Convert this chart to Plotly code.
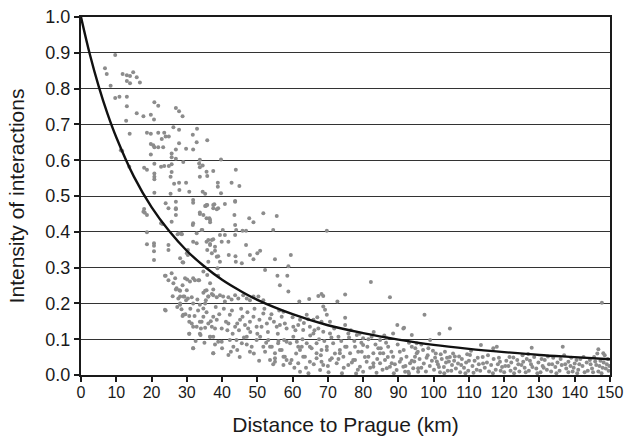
import plotly.graph_objects as go

# Fitted decay curve (km, intensity)
curve_km = [0, 2.5, 5, 7.5, 10, 15, 20, 25, 30, 35, 40, 45, 50, 60, 70, 80, 90, 100, 110, 120, 130, 140, 150]
curve_val = [1.0, 0.896, 0.807, 0.730, 0.664, 0.554, 0.469, 0.402, 0.347, 0.303, 0.266, 0.236, 0.210,
             0.170, 0.139, 0.117, 0.099, 0.084, 0.073, 0.064, 0.056, 0.050, 0.044]

# Scatter of municipalities (km, intensity)
dist_km = [
 9.7,6.8,7.3,8.4,11.8,13.0,13.9,14.8,15.8,13.0,13.9,16.7,9.7,10.9,13.0,13.0,12.8,15.8,17.7,19.8,20.7,20.8,21.9,26.9,27.8,28.8,
 13.8,18.7,19.8,21.9,23.6,22.9,24.0,24.9,26.2,27.8,31.7,32.9,32.8,35.8,11.3,11.7,19.8,20.5,21.9,23.3,20.8,27.8,26.9,29.8,31.8,
 19.8,25.7,25.7,26.9,29.0,33.7,39.7,13.7,17.9,18.7,20.8,22.7,23.6,24.9,25.7,33.5,34.5,33.7,35.6,37.5,43.9,20.8,20.8,20.8,25.4,
 25.7,33.7,35.8,26.4,27.8,29.8,38.8,38.8,42.7,44.9,20.8,25.4,27.9,30.7,34.5,35.2,39.7,31.8,31.8,26.9,24.0,35.6,37.8,43.7,24.8,
 26.9,38.9,37.5,17.9,
 17.7,18.1,18.7,18.7,18.7,20.7,20.7,20.7,20.7,24.0,24.0,26.9,26.9,25.7,22.7,24.8,24.8,27.9,28.5,28.1,28.8,30.0,25.7,24.8,26.2,
 26.9,27.9,28.8,29.5,30.0,28.1,29.3,30.3,31.8,28.1,28.5,28.8,30.7,31.8,30.7,31.8,33.7,34.2,35.2,34.7,35.2,36.1,35.6,36.6,37.5,
 36.6,37.5,38.0,31.8,33.5,34.7,35.8,32.8,34.4,31.8,33.7,35.6,36.6,35.4,35.6,36.6,37.5,38.0,37.1,36.1,38.5,38.9,38.7,35.4,37.5,
 23.1,35.2,35.8,37.5,38.5,33.7,34.7,36.4,36.6,31.7,34.2,40.8,43.5,43.7,47.7,48.9,51.7,55.5,43.7,40.2,44.0,45.8,46.8,54.5,27.4,
 28.6,29.0,30.3,30.3,31.8,32.8,36.1,37.1,36.6,35.8,38.0,38.9,39.4,39.4,40.8,41.8,39.9,43.7,43.8,41.9,43.9,45.6,46.8,47.9,48.9,
 50.0,50.8,52.2,55.0,55.7,56.4,23.8,26.7,27.1,28.1,30.1,30.9,32.3,33.3,29.0,27.6,28.1,29.8,31.4,33.0,33.7,34.7,35.2,36.1,37.1,
 37.5,38.5,39.4,40.3,40.8,41.8,42.7,43.7,44.6,46.0,47.0,47.9,48.9,50.3,51.7,23.8,29.0,30.7,31.4,32.8,33.7,34.7,36.1,37.1,37.5,
 38.5,39.9,41.1,41.8,42.2,43.7,44.3,45.1,45.8,46.5,47.4,47.9,48.9,49.8,50.6,51.7,52.7,53.6,54.7,55.5,56.9,57.8,30.7,33.9,36.6,
 38.9,39.9,42.2,43.2,44.1,45.6,47.0,48.4,49.8,50.8,51.7,53.1,54.1,55.0,55.9,56.9,57.8,31.8,37.5,41.8,44.3,47.9,52.2,53.6,55.0,
 57.4,58.3,
 69.7,59.5,58.8,58.5,58.8,82.2,61.9,64.7,67.3,68.2,68.7,72.7,74.9,87.6,68.7,69.2,69.7,57.4,60.0,62.1,64.0,64.4,65.9,67.0,68.2,
 70.6,74.9,74.9,89.7,91.4,93.8,56.4,58.3,60.2,61.6,63.0,64.9,65.9,67.3,68.7,70.6,73.0,75.8,78.2,80.0,82.4,84.8,86.7,88.5,57.6,
 59.3,61.2,62.6,64.0,65.4,66.8,68.2,69.7,71.5,73.4,74.9,76.3,77.7,79.6,81.2,82.9,84.3,85.7,87.1,88.5,90.4,92.3,93.8,95.2,59.7,
 61.6,63.5,64.9,66.8,68.7,70.6,72.5,74.4,75.8,77.7,79.1,81.0,82.9,84.8,86.7,88.1,89.5,91.4,92.8,94.2,95.6,62.1,67.8,80.0,
 62.1,63.0,64.9,66.8,68.2,69.7,71.1,73.4,75.3,77.2,78.6,80.0,81.5,82.9,84.8,86.2,87.6,90.4,91.9,93.3,94.7,95.6,58.3,60.2,61.6,
 57.4,59.3,56.4,55.0,53.6,
 147.7,97.4,104.6,101.6,95.2,99.0,113.4,116.9,117.9,127.8,136.6,146.7,148.1,110.6,110.3,126.8,122.6,118.8,125.4,138.2,140.5,
 144.3,91.6,
 96.0,96.5,97.2,97.8,98.3,98.9,99.5,100.1,100.6,101.2,101.8,102.3,102.9,103.5,104.0,104.6,105.2,105.8,106.3,106.9,107.5,108.0,
 108.6,109.2,109.8,111.0,111.6,112.2,112.8,113.9,114.5,115.1,115.7,116.3,117.0,117.6,118.2,119.4,120.0,120.6,121.2,121.8,122.0,
 123.1,123.7,124.3,124.9,125.8,126.4,127.0,127.6,128.5,129.1,129.7,130.3,130.9,131.5,132.1,132.7,133.3,133.9,134.5,135.1,135.7,
 136.3,137.0,137.6,138.8,139.4,140.0,141.0,141.6,142.2,142.8,143.4,144.9,145.5,146.1,146.7,147.3,147.9,148.5,149.1,149.6,
 95.5,97.0,99.8,102.0,103.2,105.5,107.2,109.5,94.5,98.0,100.9,103.8,
 60.5,61.0,62.8,63.8,65.0,66.0,67.5,68.0,69.0,70.0,71.0,72.0,73.0,73.8,74.5,76.0,76.8,77.5,78.5,79.5,80.5,81.5,82.0,83.5,84.0,
 85.0,85.5,86.5,87.0,88.0,89.0,89.8,90.8,91.5,92.0,93.0,93.8,94.8,96.5,98.5,60.8,63.2,66.2,71.8,76.5,79.0,83.0,86.0,64.5,70.2,
 74.0,78.0,83.8,88.7,93.0,
 100.4,101.5,103.0,104.3,105.0,106.0,107.8,109.0,110.0,111.3,112.5,113.2,114.0,115.4,116.8,118.5,119.0,120.3,121.5,122.8,124.0,
 125.2,126.1,127.3,128.0,129.4,130.6,131.2,132.4,133.6,134.8,136.0,137.3,138.2,139.0,139.7,140.7,141.3,142.5,143.7,144.5,145.2,
 145.8,146.4,147.0,147.6,148.2,148.8,149.4,149.8,
 26.0,27.3,29.6,31.0,32.2,33.2,34.0,35.6,36.8,38.2,39.2,40.5,41.5,42.8,43.0,44.8,45.4,46.2,47.2,48.0,49.2,50.0,51.2,52.0,53.0,
 54.0,55.8,56.2,40.0,42.5,45.0,47.0,49.0,50.5,52.5,54.5,56.0,38.0,35.0,32.5,
]
intensity = [
 0.894,0.857,0.841,0.808,0.841,0.837,0.835,0.846,0.832,0.821,0.815,0.817,0.774,0.777,0.777,0.751,0.710,0.731,0.723,0.727,0.714,
 0.762,0.752,0.746,0.737,0.723,
 0.674,0.677,0.674,0.677,0.677,0.659,0.666,0.666,0.692,0.685,0.671,0.688,0.650,0.656,0.628,0.626,0.645,0.642,0.636,0.636,0.636,
 0.647,0.630,0.632,0.630,
 0.616,0.619,0.608,0.604,0.595,0.601,0.602,0.582,0.579,0.573,0.590,0.582,0.584,0.584,0.589,0.591,0.585,0.580,0.568,0.570,0.573,
 0.563,0.554,0.547,0.554,
 0.567,0.554,0.556,0.534,0.537,0.537,0.537,0.526,0.537,0.528,0.509,0.506,0.517,0.512,0.512,0.506,0.508,0.489,0.481,0.484,0.480,
 0.475,0.477,0.486,0.466,
 0.466,0.466,0.466,0.464,
 0.456,0.453,0.447,0.399,0.365,0.368,0.361,0.346,0.321,0.277,0.180,0.463,0.447,0.428,0.424,0.363,0.349,0.396,0.394,0.326,0.315,
 0.340,0.284,0.265,0.256,
 0.239,0.237,0.251,0.270,0.237,0.219,0.219,0.214,0.200,0.200,0.184,0.165,0.149,0.135,0.115,0.075,0.115,0.149,0.132,0.186,0.200,
 0.219,0.237,0.256,0.061,
 0.107,0.107,0.130,0.270,0.265,0.289,0.279,0.396,0.405,0.424,0.450,0.438,0.433,0.472,0.372,0.366,0.379,0.358,0.340,0.316,0.330,
 0.277,0.298,0.209,0.223,
 0.422,0.472,0.475,0.475,0.463,0.454,0.447,0.438,0.427,0.419,0.405,0.478,0.447,0.484,0.438,0.427,0.452,0.444,0.419,0.405,0.405,
 0.403,0.403,0.405,0.393,
 0.393,0.314,0.349,0.335,0.372,0.368,0.377,0.377,0.363,0.349,0.347,0.332,0.316,0.391,0.391,0.372,0.372,0.391,0.332,0.335,0.316,
 0.312,0.363,0.335,0.323,
 0.340,0.347,0.293,0.323,0.277,0.251,0.277,0.270,0.242,0.235,0.267,0.261,0.265,0.265,0.219,0.214,0.196,0.209,0.217,0.211,0.196,
 0.230,0.235,0.219,0.226,
 0.239,0.217,0.223,0.219,0.205,0.217,0.211,0.223,0.214,0.223,0.214,0.209,0.219,0.219,0.209,0.182,0.168,0.165,0.144,0.135,0.149,
 0.163,0.144,0.135,0.163,
 0.154,0.130,0.149,0.144,0.168,0.135,0.144,0.154,0.163,0.140,0.130,0.149,0.163,0.135,0.154,0.172,0.144,0.158,0.149,0.135,0.163,
 0.144,0.115,0.112,0.107,
 0.093,0.093,0.098,0.079,0.098,0.089,0.107,0.079,0.098,0.107,0.079,0.098,0.079,0.061,0.089,0.070,0.051,0.075,0.061,0.056,0.070,
 0.065,0.065,0.042,0.037,
 0.028,0.042,
 0.403,0.335,0.304,0.277,0.233,0.260,0.205,0.212,0.221,0.226,0.221,0.205,0.225,0.217,0.191,0.182,0.168,0.177,0.161,0.154,0.168,
 0.156,0.154,0.161,0.149,
 0.149,0.160,0.140,0.140,0.130,0.112,0.140,0.130,0.135,0.140,0.126,0.135,0.116,0.130,0.121,0.116,0.107,0.116,0.112,0.103,0.107,
 0.098,0.103,0.116,0.098,
 0.089,0.093,0.079,0.089,0.075,0.089,0.070,0.079,0.089,0.070,0.079,0.061,0.079,0.065,0.079,0.061,0.075,0.061,0.079,0.051,0.065,
 0.051,0.079,0.061,0.042,
 0.033,0.051,0.037,0.047,0.028,0.042,0.033,0.051,0.028,0.042,0.023,0.037,0.023,0.033,0.019,0.033,0.014,0.023,0.009,0.019,0.009,
 0.009,0.014,0.009,
 0.070,0.051,0.079,0.061,0.037,0.070,0.047,0.061,0.079,0.042,0.065,0.084,0.051,0.033,0.061,0.042,0.023,0.037,0.009,0.033,0.051,
 0.019,0.093,0.107,0.079,
 0.051,0.033,0.070,0.047,0.079,
 0.202,0.168,0.130,0.115,0.089,0.098,0.084,0.075,0.079,0.076,0.079,0.072,0.061,0.068,0.056,0.059,0.049,0.037,0.037,0.037,0.042,
 0.042,0.132,
 0.045,0.020,0.032,0.010,0.055,0.025,0.040,0.015,0.060,0.030,0.008,0.045,0.022,0.035,0.012,0.050,0.028,0.040,0.018,0.032,0.008,
 0.045,0.020,0.035,0.012,0.025,0.040,0.015,0.030,0.050,0.020,0.035,0.010,0.028,0.045,0.015,0.030,0.022,0.008,0.040,0.025,0.012,
 0.035,0.018,0.042,0.010,0.028,0.020,0.045,0.012,0.030,0.050,0.018,0.035,0.008,0.025,0.042,0.015,0.030,0.010,0.048,0.022,0.035,
 0.012,0.028,0.055,0.018,0.025,0.010,0.032,0.015,0.045,0.025,0.008,0.035,0.018,0.050,0.028,0.010,0.040,0.020,0.055,0.030,0.012,
 0.065,0.070,0.068,0.058,0.065,0.060,0.052,0.058,0.038,0.048,0.038,0.048,
 0.020,0.060,0.100,0.020,0.110,0.030,0.100,0.055,0.095,0.025,0.105,0.060,0.045,0.095,0.020,0.105,0.035,0.095,0.015,0.090,0.050,
 0.100,0.020,0.085,0.045,
 0.075,0.015,0.090,0.050,0.065,0.030,0.085,0.045,0.070,0.025,0.090,0.040,0.075,0.085,0.075,0.125,0.145,0.125,0.130,0.125,0.115,
 0.120,0.110,0.005,0.008,
 0.005,0.004,0.006,0.005,0.004,
 0.048,0.022,0.005,0.038,0.012,0.052,0.028,0.005,0.040,0.006,0.048,0.012,0.032,0.055,0.005,0.048,0.012,0.025,0.050,0.005,0.030,
 0.055,0.008,0.040,0.022,0.005,0.045,0.020,0.052,0.030,0.005,0.045,0.030,0.008,0.048,0.020,0.005,0.030,0.050,0.012,0.030,0.008,
 0.038,0.060,0.025,0.005,0.035,0.018,0.045,0.025,
 0.220,0.190,0.170,0.185,0.165,0.180,0.130,0.175,0.150,0.190,0.170,0.185,0.125,0.180,0.115,0.125,0.185,0.105,0.175,0.120,0.185,
 0.115,0.135,0.185,0.120,
 0.170,0.115,0.180,0.075,0.065,0.050,0.085,0.060,0.040,0.090,0.030,0.095,0.085,0.090,0.095,
]

n = min(len(dist_km), len(intensity))

x_ticks = list(range(0, 151, 10))
y_ticks = [round(i * 0.1, 1) for i in range(11)]

fig = go.Figure()
fig.add_trace(go.Scatter(x=dist_km[:n], y=intensity[:n], mode="markers",
                         marker=dict(size=4, color="#8c8c8c", line=dict(width=0)),
                         showlegend=False, cliponaxis=False))
fig.add_trace(go.Scatter(x=curve_km, y=curve_val, mode="lines",
                         line=dict(color="#111111", width=2.4, shape="spline", smoothing=1.0),
                         showlegend=False))

fam = "Liberation Sans, Arial, sans-serif"
fig.update_layout(
    width=624, height=440,
    margin=dict(l=81, r=14, t=17, b=65),
    paper_bgcolor="white", plot_bgcolor="white",
    font=dict(size=16, family=fam, color="#1a1a1a"),
    xaxis=dict(range=[0, 150], tickvals=x_ticks, ticktext=[str(v) for v in x_ticks],
               automargin=False,
               showgrid=False, zeroline=False, showline=True, linecolor="#1a1a1a", linewidth=2,
               mirror=True, ticks="outside", ticklen=5, tickwidth=1.5, tickcolor="#1a1a1a",
               ticklabelstandoff=-3,
               tickfont=dict(size=16, family=fam),
               title=dict(text="Distance to Prague (km)", font=dict(size=21, family=fam), standoff=17)),
    yaxis=dict(range=[0, 1.0], tickvals=y_ticks, ticktext=[f"{v:.1f}" for v in y_ticks],
               automargin=False,
               showgrid=True, gridcolor="#333333", gridwidth=1.3, zeroline=False,
               showline=True, linecolor="#1a1a1a", linewidth=2, mirror=True,
               ticks="outside", ticklen=5, tickwidth=1.5, tickcolor="#1a1a1a",
               tickfont=dict(size=18, family=fam),
               title=dict(text="Intensity of interactions", font=dict(size=21, family=fam), standoff=15)),
)

fig.write_html("out.html", config={"displayModeBar": False},
               post_script="document.body.style.margin='0px';document.body.style.padding='0px';")
